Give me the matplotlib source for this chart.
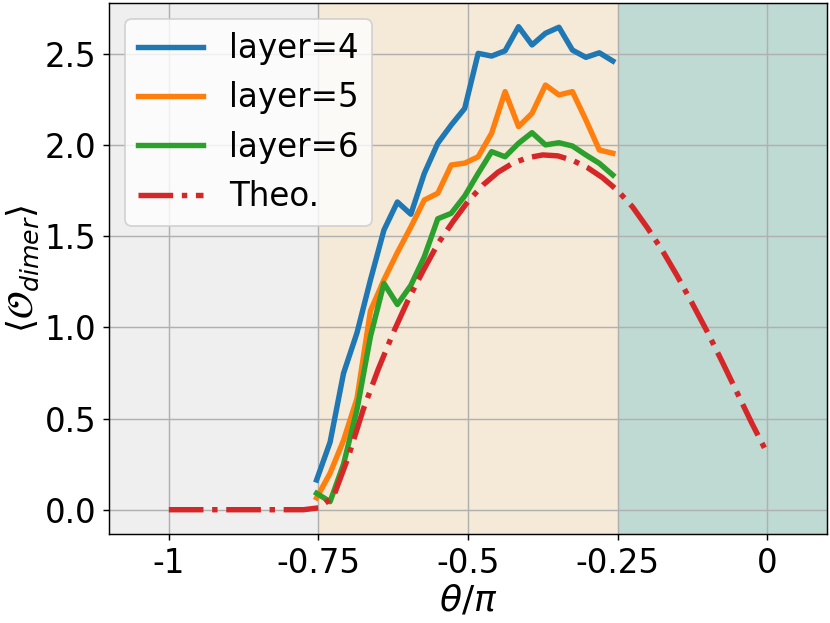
import numpy as np
import matplotlib
matplotlib.use("Agg")
import matplotlib.pyplot as plt

# theta/pi grid for the circuit data (23 points)
x_layer = [-0.753, -0.7305, -0.708, -0.6855, -0.663, -0.6405, -0.618, -0.5955,
           -0.573, -0.5505, -0.528, -0.5055, -0.483, -0.4605, -0.438, -0.4155,
           -0.393, -0.3705, -0.348, -0.3255, -0.303, -0.2805, -0.258]

layer4 = [0.163, 0.37, 0.748, 0.97, 1.26, 1.533, 1.687, 1.62, 1.844, 2.009, 2.109, 2.20,
          2.502, 2.487, 2.516, 2.648, 2.548, 2.612, 2.645, 2.520, 2.480, 2.505, 2.460]
layer5 = [0.065, 0.20, 0.38, 0.61, 1.09, 1.26, 1.41, 1.55, 1.698, 1.735, 1.89, 1.90,
          1.935, 2.064, 2.292, 2.10, 2.173, 2.328, 2.274, 2.292, 2.137, 1.972, 1.954]
layer6 = [0.09, 0.044, 0.25, 0.55, 0.95, 1.241, 1.125, 1.23, 1.387, 1.595, 1.625, 1.72,
          1.844, 1.963, 1.935, 2.009, 2.067, 2.0, 2.012, 1.994, 1.945, 1.899, 1.835]

# theory curve
x_theo = [-1.0, -0.975, -0.95, -0.925, -0.9, -0.875, -0.85, -0.825, -0.8, -0.775, -0.75,
          -0.725, -0.7, -0.675, -0.65, -0.625, -0.6, -0.575, -0.55, -0.525, -0.5,
          -0.475, -0.45, -0.425, -0.4, -0.375, -0.35, -0.325, -0.3, -0.275, -0.25,
          -0.225, -0.2, -0.175, -0.15, -0.125, -0.1, -0.075, -0.05, -0.025, 0.0]
theo = [0, 0, 0, 0, 0, 0, 0, 0, 0, 0, 0.01,
        0.07, 0.29, 0.55, 0.77, 0.97, 1.15, 1.31, 1.46, 1.58, 1.69,
        1.78, 1.85, 1.90, 1.93, 1.945, 1.94, 1.915, 1.875, 1.82, 1.75,
        1.66, 1.545, 1.42, 1.28, 1.13, 0.975, 0.81, 0.64, 0.47, 0.31]

xticks = [-1, -0.75, -0.5, -0.25, 0]
xticklabels = ['-1', '-0.75', '-0.5', '-0.25', '0']

fig = plt.figure(figsize=(830/130, 623/130), dpi=130)
ax = fig.add_axes([0.1313, 0.1429, 0.8651, 0.8523])

# phase regions
ax.axvspan(-1.1, -0.75, color='#efefef', lw=0, zorder=0)
ax.axvspan(-0.75, -0.25, color='#f5e9d7', lw=0, zorder=0)
ax.axvspan(-0.25, 0.1, color='#bfd9d3', lw=0, zorder=0)

ax.plot(x_layer, layer4, color='tab:blue', lw=3, label='layer=4')
ax.plot(x_layer, layer5, color='tab:orange', lw=3, label='layer=5')
ax.plot(x_layer, layer6, color='tab:green', lw=3, label='layer=6')
ax.plot(x_theo, theo, color='tab:red', lw=3, ls='-.', label='Theo.')

ax.set_xlim(-1.1, 0.1)
ax.set_ylim(-0.133, 2.778)
ax.set_xticks(xticks)
ax.set_xticklabels(xticklabels)
ax.tick_params(labelsize=18)
ax.grid(True, zorder=1)
ax.set_axisbelow(True)
ax.set_xlabel(r'$\theta/\pi$', fontsize=20, labelpad=2)
ax.set_ylabel(r'$\langle \mathcal{O}_{dimer} \rangle$', fontsize=20, labelpad=2)
ax.legend(loc='upper left', fontsize=18)

fig.savefig('out.png', dpi=130)
